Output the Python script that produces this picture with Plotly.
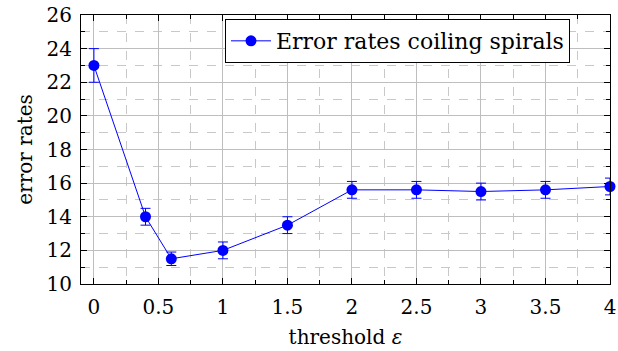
import plotly.graph_objects as go

thresholds = [0, 0.4, 0.6, 1, 1.5, 2, 2.5, 3, 3.5, 4]
error_rates = [23, 14, 11.5, 12, 13.5, 15.6, 15.6, 15.5, 15.6, 15.8]
error_bars = [1, 0.5, 0.4, 0.5, 0.5, 0.5, 0.5, 0.5, 0.5, 0.5]
x_ticks = [0, 0.5, 1, 1.5, 2, 2.5, 3, 3.5, 4]
x_tick_labels = ["0", "0.5", "1", "1.5", "2", "2.5", "3", "3.5", "4"]
y_ticks = [10, 12, 14, 16, 18, 20, 22, 24, 26]

FONT = "DejaVu Serif, Liberation Serif, serif"
BLUE = "rgb(0,0,255)"

fig = go.Figure()
fig.add_trace(go.Scatter(
    x=thresholds, y=error_rates,
    mode="lines+markers",
    name="Error rates coiling spirals",
    line=dict(color=BLUE, width=1),
    marker=dict(color=BLUE, size=11, symbol="circle"),
    error_y=dict(type="data", array=error_bars, visible=True, color=BLUE, thickness=1, width=5),
    cliponaxis=False,
))

axis_common = dict(
    showline=True, linecolor="black", linewidth=1, mirror="allticks",
    ticks="inside", ticklen=6, tickcolor="black", tickwidth=1,
    showgrid=True, gridcolor="rgb(190,190,190)", gridwidth=1,
    zeroline=False, automargin=False,
    tickfont=dict(family=FONT, size=20, color="black"),
)

fig.update_xaxes(
    range=[-0.1, 4], tickvals=x_ticks, ticktext=x_tick_labels,
    minor=dict(dtick=0.25, tick0=0, ticks="inside", ticklen=4, tickcolor="black",
               showgrid=True, gridcolor="rgb(200,200,200)", griddash="dash", gridwidth=1),
    title=dict(text="threshold <i>ε</i>", font=dict(family=FONT, size=20, color="black"), standoff=11),
    ticklabelstandoff=5,
    **axis_common,
)
fig.update_yaxes(
    range=[10, 26], tickvals=y_ticks,
    minor=dict(dtick=1, tick0=10, ticks="inside", ticklen=4, tickcolor="black",
               showgrid=True, gridcolor="rgb(200,200,200)", griddash="dash", gridwidth=1),
    title=dict(text="error rates", font=dict(family=FONT, size=20, color="black"), standoff=8),
    ticklabelstandoff=4,
    **axis_common,
)

fig.update_layout(
    width=618, height=351,
    margin=dict(l=81, r=8, t=15, b=67),
    plot_bgcolor="white", paper_bgcolor="white",
    showlegend=True,
    legend=dict(
        x=0.2722, y=0.985, xanchor="left", yanchor="top",
        bgcolor="white", bordercolor="black", borderwidth=1,
        font=dict(family=FONT, size=22, color="black"),
        itemwidth=40, entrywidth=330, entrywidthmode="pixels",
    ),
)

fig.write_html(
    "out.html",
    config={"displayModeBar": False},
    post_script="document.body.style.margin='0';document.body.style.padding='0';",
)
